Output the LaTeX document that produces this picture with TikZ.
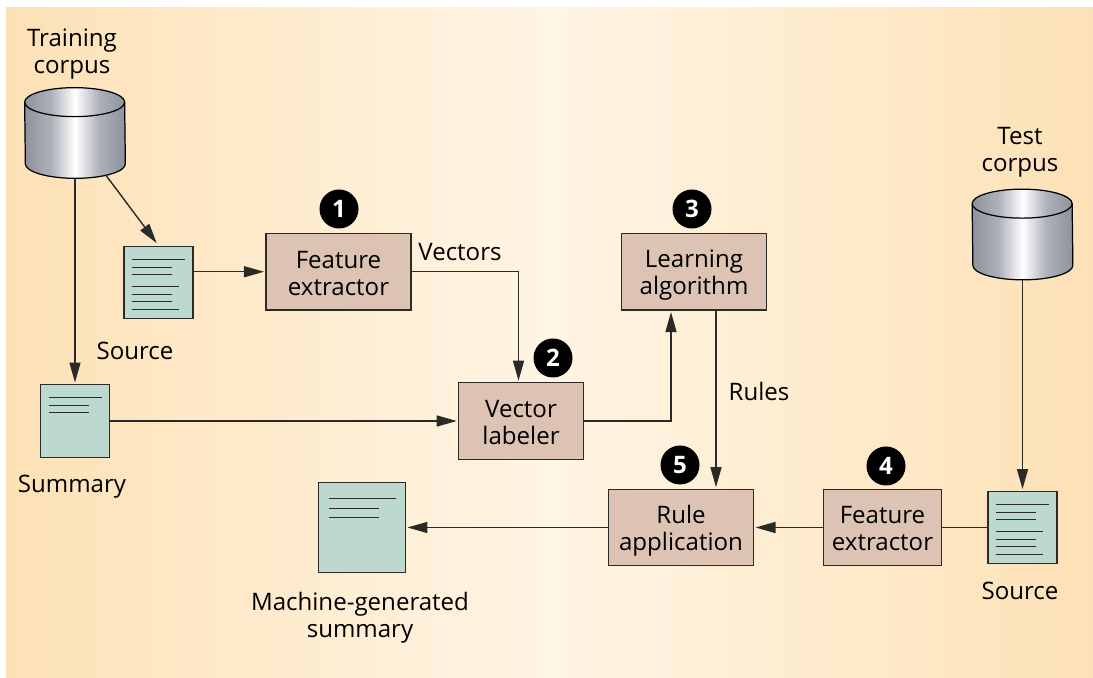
\documentclass[tikz,border=0pt]{standalone}
\usepackage{fontspec}
\setmainfont{Open Sans}
\usetikzlibrary{arrows.meta}
\definecolor{panelEdge}{HTML}{FDE1B6}
\definecolor{panelMid}{HTML}{FFF5E4}
\definecolor{boxFill}{HTML}{DCC3B3}
\definecolor{docFill}{HTML}{BDD9CF}
\definecolor{lineDark}{HTML}{2A2A26}
\definecolor{drumDark}{HTML}{8E929E}
\pgfdeclarehorizontalshading{drumshade}{100bp}{
    color(0bp)=(drumDark);
    color(25bp)=(drumDark);
    color(38bp)=(drumDark!72!white);
    color(50bp)=(white);
    color(62bp)=(drumDark!72!white);
    color(75bp)=(drumDark);
    color(100bp)=(drumDark)}
% archivio: nome, posizione
\newcommand{\drum}[2]{
    \node[minimum width=2cm, minimum height=1.8cm, inner sep=0pt] (#1) at (#2) {};
    \path[shade, shading=drumshade, draw=black, line width=0.7pt]
        ([yshift=-0.29cm]#1.north west) arc[start angle=180, end angle=0, x radius=1cm, y radius=0.29cm]
        -- ([yshift=0.29cm]#1.south east) arc[start angle=0, end angle=-180, x radius=1cm, y radius=0.29cm]
        -- cycle;
    \draw[black, line width=0.7pt]
        ([yshift=-0.29cm]#1.north west) arc[start angle=180, end angle=360, x radius=1cm, y radius=0.29cm];
}
% testo su due righe, sempre centrato allo stesso modo
\newcommand{\twolines}[2]{\rule{0pt}{14.3pt}#1\\#2\rule[-3pt]{0pt}{3pt}}
\begin{document}
\begin{tikzpicture}
    % Stili
    \tikzset{
        label/.style={font=\fontsize{13.7}{15.4}\selectfont, align=center, inner sep=0pt},
        block/.style={rectangle, draw=lineDark, fill=boxFill, line width=0.6pt,
                     minimum height=1.53cm, minimum width=2.9cm, inner sep=0pt,
                     font=\fontsize{13.7}{15.4}\selectfont, align=center},
        badge/.style={circle, fill=black, text=white, minimum size=0.78cm, inner sep=0pt,
                     font=\fontsize{13.7}{15}\selectfont},
        link/.style={draw=lineDark, line width=0.8pt},
        flow/.style={link, -{Triangle[length=0.4cm, width=0.22cm]}, shorten >=0.03cm},
        rule line/.style={draw=lineDark, line width=0.7pt},
        sheet/.style={rectangle, draw=lineDark, fill=docFill, line width=0.8pt, inner sep=0pt},
        longdoc/.style={sheet, minimum width=1.38cm, minimum height=1.45cm,
            path picture={
                \foreach \ly/\ll in {0.26/1.06, 0.42/0.80, 0.56/0.80, 0.80/0.94, 0.96/0.80, 1.10/0.80, 1.26/0.94}
                    \draw[rule line] ([shift={(0.16,-\ly)}]path picture bounding box.north west) -- ++(\ll,0);
            }},
        shortdoc/.style={sheet, minimum width=1.38cm, minimum height=1.45cm,
            path picture={
                \foreach \ly/\ll in {0.26/1.06, 0.42/0.80, 0.56/0.80}
                    \draw[rule line] ([shift={(0.16,-\ly)}]path picture bounding box.north west) -- ++(\ll,0);
            }},
        bigdoc/.style={sheet, minimum width=1.73cm, minimum height=1.81cm,
            path picture={
                \foreach \ly/\ll in {0.33/1.34, 0.52/1.00, 0.71/1.00}
                    \draw[rule line] ([shift={(0.21,-\ly)}]path picture bounding box.north west) -- ++(\ll,0);
            }}
    }

    % Sfondo
    \useasboundingbox (0,0) rectangle (21.86,13.54);
    \shade[left color=panelEdge, right color=panelEdge, middle color=panelMid]
        (0.12,0) rectangle (21.86,13.38);

    % Archivi
    \drum{trainstore}{1.5,10.88}
    \drum{teststore}{20.45,8.85}

    % Documenti
    \node[longdoc] (srcdoc) at (3.17,7.89) {};
    \node[shortdoc] (sumdoc) at (1.5,5.12) {};
    \node[bigdoc] (gendoc) at (7.24,2.99) {};
    \node[longdoc] (testdoc) at (20.45,2.99) {};

    % Blocchi
    \node[block] (fextract) at (6.77,8.105) {\twolines{Feature}{extractor}};
    \node[block] (learn) at (13.88,8.105) {\twolines{Learning}{algorithm}};
    \node[block, minimum width=2.49cm] (vlabel) at (10.42,5.12) {\twolines{Vector}{labeler}};
    \node[block] (ruleapp) at (13.62,2.99) {\twolines{Rule}{application}};
    \node[block, minimum width=2.36cm] (fextracttwo) at (17.65,2.99) {\twolines{Feature}{extractor}};

    % Numeri
    \node[badge] (stepone) at (6.78,9.36) {\textbf{1}};
    \node[badge] (steptwo) at (11.06,6.38) {\textbf{2}};
    \node[badge] (stepthree) at (13.84,9.36) {\textbf{3}};
    \node[badge] (stepfour) at (17.72,4.22) {\textbf{4}};
    \node[badge] (stepfive) at (13.6,4.24) {\textbf{5}};

    % Connessioni
    \draw[flow] (trainstore.south) -- (sumdoc.north);
    \draw[flow, shorten >=0.06cm] ([shift={(0.62,0.06)}]trainstore.south) -- (srcdoc.north);
    \draw[flow] (fextract.west -| srcdoc.east) -- (fextract.west);
    \draw[flow] (fextract.east) -| ([xshift=-0.05cm]vlabel.north);
    \draw[flow] (sumdoc.east) -- (vlabel.west);
    \draw[flow] (vlabel.east) -| ([xshift=-0.46cm]learn.south);
    \draw[flow] ([xshift=0.44cm]learn.south) -- ([xshift=0.44cm]learn.south |- ruleapp.north);
    \draw[link] (testdoc.west) -- (fextracttwo.east);
    \draw[flow] (fextracttwo.west) -- (ruleapp.east);
    \draw[flow] (ruleapp.west) -- (gendoc.east);
    \draw[flow] (teststore.south) -- (testdoc.north);

    % Etichette
    \node[label] (trainlabel) at (1.44,12.46) {Training\\corpus};
    \node[label] (testlabel) at (20.4,10.5) {Test\\corpus};
    \node[label] (srclabel) at (2.7,6.52) {Source};
    \node[label] (sumlabel) at (1.44,3.8) {Summary};
    \node[label] (genlabel) at (7.2,1.18) {Machine-generated\\summary};
    \node[label] (testsrclabel) at (20.4,1.73) {Source};
    \node[label] (vectorlabel) at (9.2,8.5) {Vectors};
    \node[label] (ruleslabel) at (15.18,5.72) {Rules};
\end{tikzpicture}
\end{document}
